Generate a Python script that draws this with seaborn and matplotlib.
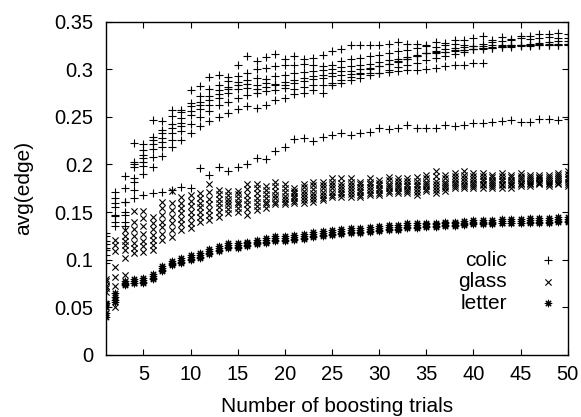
import numpy as np
import pandas as pd
import seaborn as sns
import matplotlib
matplotlib.use("Agg")
import matplotlib.pyplot as plt

# ================= DATA =================
# avg(edge) per boosting trial (1..50), one list per run

colic_1 = [0.128, 0.171, 0.188, 0.223, 0.221, 0.247, 0.246, 0.257, 0.257, 0.278,
           0.282, 0.292, 0.294, 0.292, 0.305, 0.314, 0.309, 0.313, 0.316, 0.311,
           0.314, 0.311, 0.312, 0.315, 0.319, 0.321, 0.325, 0.325, 0.326, 0.326,
           0.327, 0.329, 0.327, 0.327, 0.325, 0.329, 0.328, 0.331, 0.331, 0.333,
           0.335, 0.331, 0.334, 0.332, 0.335, 0.335, 0.337, 0.337, 0.338, 0.337]
colic_2 = [0.125, 0.165, 0.175, 0.203, 0.215, 0.229, 0.236, 0.251, 0.255, 0.265,
           0.272, 0.279, 0.283, 0.288, 0.293, 0.296, 0.300, 0.301, 0.303, 0.305,
           0.304, 0.306, 0.304, 0.303, 0.305, 0.309, 0.311, 0.312, 0.314, 0.315,
           0.317, 0.319, 0.320, 0.322, 0.324, 0.323, 0.325, 0.327, 0.325, 0.324,
           0.327, 0.329, 0.330, 0.331, 0.333, 0.332, 0.333, 0.334, 0.333, 0.333]
colic_3 = [0.120, 0.147, 0.161, 0.200, 0.210, 0.226, 0.233, 0.243, 0.249, 0.261,
           0.266, 0.272, 0.278, 0.281, 0.287, 0.289, 0.291, 0.290, 0.293, 0.294,
           0.296, 0.297, 0.298, 0.299, 0.300, 0.302, 0.303, 0.305, 0.306, 0.308,
           0.310, 0.311, 0.313, 0.315, 0.317, 0.318, 0.318, 0.320, 0.320, 0.321,
           0.322, 0.323, 0.324, 0.325, 0.326, 0.327, 0.328, 0.329, 0.330, 0.330]
colic_4 = [0.116, 0.140, 0.150, 0.197, 0.207, 0.221, 0.228, 0.238, 0.244, 0.256,
           0.262, 0.268, 0.274, 0.279, 0.284, 0.285, 0.284, 0.286, 0.285, 0.287,
           0.289, 0.291, 0.293, 0.294, 0.296, 0.298, 0.298, 0.300, 0.301, 0.303,
           0.306, 0.308, 0.311, 0.314, 0.317, 0.319, 0.321, 0.322, 0.323, 0.324,
           0.324, 0.325, 0.325, 0.326, 0.326, 0.326, 0.327, 0.327, 0.327, 0.327]
colic_5 = [0.112, 0.135, 0.140, 0.186, 0.203, 0.216, 0.224, 0.233, 0.240, 0.252,
           0.258, 0.263, 0.270, 0.275, 0.279, 0.280, 0.279, 0.281, 0.283, 0.284,
           0.286, 0.288, 0.290, 0.291, 0.293, 0.294, 0.295, 0.295, 0.296, 0.296,
           0.297, 0.298, 0.299, 0.299, 0.300, 0.301, 0.303, 0.304, 0.305, 0.307,
           0.307]
colic_6 = [0.110, 0.160, 0.161, 0.173, 0.198, 0.208, 0.218, 0.226, 0.235, 0.242,
           0.250, 0.256, 0.262, 0.266, 0.270, 0.273, 0.275, 0.277, 0.278, 0.280,
           0.279, 0.281, 0.283, 0.284, 0.286, 0.289, 0.292, 0.296, 0.300, 0.303,
           0.306, 0.309, 0.311, 0.314, 0.317, 0.317, 0.318, 0.319, 0.320, 0.321,
           0.321, 0.322, 0.323, 0.324, 0.326, 0.325, 0.325, 0.326, 0.325, 0.325]
colic_7 = [0.105, 0.155, 0.147, 0.165, 0.190, 0.197, 0.209, 0.218, 0.226, 0.233,
           0.240, 0.246, 0.250, 0.254, 0.258, 0.261, 0.259, 0.263, 0.268, 0.270,
           0.274, 0.275, 0.278, 0.275, 0.284, 0.286, 0.289, 0.291, 0.294, 0.296,
           0.299, 0.302, 0.305, 0.307, 0.310, 0.312, 0.314, 0.316, 0.318, 0.321,
           0.322, 0.322, 0.323, 0.323, 0.324, 0.324, 0.325, 0.326, 0.326, 0.327]
colic_8 = [0.097, 0.146, 0.135, 0.182, 0.168, 0.170, 0.171, 0.173, 0.176, 0.175,
           0.196, 0.189, 0.197, 0.193, 0.197, 0.200, 0.207, 0.206, 0.214, 0.218,
           0.227, 0.228, 0.225, 0.229, 0.231, 0.233, 0.231, 0.233, 0.234, 0.238,
           0.237, 0.238, 0.241, 0.238, 0.238, 0.238, 0.241, 0.240, 0.241, 0.244,
           0.244, 0.245, 0.246, 0.247, 0.245, 0.245, 0.248, 0.248, 0.247, 0.248]

glass_1 = [0.080, 0.121, 0.131, 0.151, 0.151, 0.145, 0.161, 0.172, 0.166, 0.168,
           0.170, 0.179, 0.173, 0.172, 0.172, 0.180, 0.180, 0.177, 0.182, 0.179,
           0.175, 0.179, 0.182, 0.182, 0.186, 0.186, 0.186, 0.182, 0.186, 0.184,
           0.187, 0.186, 0.186, 0.187, 0.189, 0.193, 0.189, 0.191, 0.193, 0.191,
           0.191, 0.189, 0.191, 0.189, 0.191, 0.189, 0.189, 0.189, 0.191, 0.193]
glass_2 = [0.078, 0.115, 0.125, 0.140, 0.144, 0.139, 0.154, 0.160, 0.160, 0.162,
           0.165, 0.171, 0.169, 0.168, 0.169, 0.174, 0.175, 0.173, 0.177, 0.175,
           0.172, 0.176, 0.178, 0.178, 0.182, 0.181, 0.182, 0.179, 0.182, 0.181,
           0.184, 0.183, 0.183, 0.183, 0.186, 0.188, 0.186, 0.188, 0.189, 0.188,
           0.188, 0.187, 0.188, 0.187, 0.188, 0.187, 0.187, 0.187, 0.189, 0.190]
glass_3 = [0.072, 0.109, 0.120, 0.132, 0.135, 0.132, 0.147, 0.152, 0.154, 0.156,
           0.160, 0.164, 0.164, 0.164, 0.165, 0.168, 0.170, 0.169, 0.172, 0.171,
           0.170, 0.172, 0.174, 0.175, 0.178, 0.177, 0.178, 0.176, 0.179, 0.178,
           0.180, 0.180, 0.179, 0.180, 0.182, 0.183, 0.182, 0.185, 0.186, 0.185,
           0.185, 0.184, 0.185, 0.184, 0.186, 0.185, 0.186, 0.185, 0.187, 0.187]
glass_4 = [0.070, 0.092, 0.115, 0.125, 0.127, 0.126, 0.140, 0.145, 0.149, 0.150,
           0.155, 0.158, 0.160, 0.161, 0.161, 0.163, 0.165, 0.165, 0.168, 0.167,
           0.167, 0.169, 0.170, 0.171, 0.175, 0.174, 0.175, 0.173, 0.176, 0.175,
           0.177, 0.177, 0.177, 0.177, 0.179, 0.179, 0.180, 0.182, 0.183, 0.182,
           0.183, 0.182, 0.183, 0.182, 0.184, 0.183, 0.184, 0.183, 0.185, 0.185]
glass_5 = [0.066, 0.082, 0.110, 0.118, 0.120, 0.121, 0.134, 0.138, 0.143, 0.145,
           0.150, 0.152, 0.155, 0.157, 0.158, 0.158, 0.161, 0.161, 0.165, 0.164,
           0.165, 0.166, 0.167, 0.168, 0.171, 0.171, 0.172, 0.171, 0.173, 0.173,
           0.175, 0.175, 0.174, 0.174, 0.177, 0.176, 0.177, 0.180, 0.180, 0.180,
           0.180, 0.180, 0.180, 0.180, 0.181, 0.181, 0.182, 0.181, 0.183, 0.182]
glass_6 = [0.053, 0.072, 0.102, 0.112, 0.114, 0.115, 0.127, 0.131, 0.137, 0.139,
           0.145, 0.147, 0.150, 0.153, 0.154, 0.153, 0.156, 0.158, 0.161, 0.161,
           0.162, 0.163, 0.164, 0.165, 0.168, 0.169, 0.169, 0.168, 0.170, 0.170,
           0.172, 0.172, 0.172, 0.171, 0.174, 0.173, 0.175, 0.177, 0.177, 0.177,
           0.178, 0.177, 0.178, 0.178, 0.179, 0.179, 0.181, 0.179, 0.181, 0.180]
glass_7 = [0.050, 0.050, 0.084, 0.107, 0.108, 0.110, 0.121, 0.124, 0.131, 0.133,
           0.140, 0.142, 0.145, 0.149, 0.150, 0.147, 0.152, 0.154, 0.158, 0.158,
           0.160, 0.160, 0.161, 0.163, 0.166, 0.166, 0.166, 0.166, 0.168, 0.168,
           0.170, 0.170, 0.170, 0.168, 0.172, 0.170, 0.172, 0.175, 0.175, 0.175,
           0.175, 0.175, 0.175, 0.175, 0.177, 0.177, 0.179, 0.177, 0.179, 0.177]

letter_1 = [0.055, 0.065, 0.078, 0.080, 0.081, 0.085, 0.093, 0.099, 0.102, 0.105,
            0.107, 0.111, 0.114, 0.117, 0.117, 0.119, 0.121, 0.123, 0.125, 0.125,
            0.126, 0.127, 0.129, 0.130, 0.131, 0.132, 0.133, 0.133, 0.134, 0.135,
            0.136, 0.136, 0.138, 0.138, 0.139, 0.139, 0.140, 0.140, 0.141, 0.142,
            0.142, 0.142, 0.143, 0.143, 0.143, 0.144, 0.144, 0.144, 0.145, 0.145]
letter_2 = [0.050, 0.061, 0.076, 0.078, 0.079, 0.083, 0.091, 0.097, 0.100, 0.103,
            0.105, 0.109, 0.112, 0.115, 0.115, 0.117, 0.119, 0.121, 0.123, 0.123,
            0.124, 0.125, 0.127, 0.128, 0.129, 0.130, 0.131, 0.131, 0.132, 0.133,
            0.134, 0.134, 0.136, 0.136, 0.137, 0.137, 0.138, 0.138, 0.139, 0.140,
            0.140, 0.140, 0.141, 0.141, 0.141, 0.142, 0.142, 0.142, 0.143, 0.143]
letter_3 = [0.044, 0.058, 0.074, 0.076, 0.077, 0.081, 0.089, 0.095, 0.098, 0.101,
            0.103, 0.107, 0.110, 0.113, 0.113, 0.115, 0.117, 0.119, 0.121, 0.121,
            0.122, 0.123, 0.125, 0.126, 0.127, 0.128, 0.129, 0.129, 0.130, 0.131,
            0.132, 0.132, 0.134, 0.134, 0.135, 0.135, 0.136, 0.136, 0.137, 0.138,
            0.138, 0.138, 0.139, 0.139, 0.139, 0.140, 0.140, 0.140, 0.141, 0.141]
letter_4 = [0.040, 0.056, 0.073, 0.075, 0.076, 0.080, 0.088, 0.094, 0.097, 0.100,
            0.102, 0.106, 0.109, 0.112, 0.112, 0.114, 0.116, 0.118, 0.120, 0.120,
            0.121, 0.122, 0.124, 0.125, 0.126, 0.127, 0.128, 0.128, 0.129, 0.130,
            0.131, 0.131, 0.133, 0.133, 0.134, 0.134, 0.135, 0.135, 0.136, 0.137,
            0.137, 0.137, 0.138, 0.138, 0.138, 0.139, 0.139, 0.139, 0.140, 0.140]

datasets = ["colic", "glass", "letter"]
runs = {
    "colic": [colic_1, colic_2, colic_3, colic_4, colic_5, colic_6, colic_7, colic_8],
    "glass": [glass_1, glass_2, glass_3, glass_4, glass_5, glass_6, glass_7],
    "letter": [letter_1, letter_2, letter_3, letter_4],
}
y_ticks = [0, 0.05, 0.1, 0.15, 0.2, 0.25, 0.3, 0.35]
y_labels = ["0", "0.05", "0.1", "0.15", "0.2", "0.25", "0.3", "0.35"]
x_ticks = [5, 10, 15, 20, 25, 30, 35, 40, 45, 50]
# ========================================

# long table: one row per (dataset, run, trial)
rows = []
for name in datasets:
    for k, run in enumerate(runs[name]):
        for i, v in enumerate(run):
            rows.append((name, k, i + 1, v))
df = pd.DataFrame(rows, columns=["dataset", "run", "trial", "edge"])

plt.rcParams["font.family"] = ["Liberation Sans", "DejaVu Sans"]
plt.rcParams["font.size"] = 15

markers = {"colic": "+", "glass": "x", "letter": (8, 2, 0)}
sizes = {"colic": 28, "glass": 20, "letter": 22}

fig = plt.figure(figsize=(5.81, 4.17), dpi=100)
ax = fig.add_axes([0.182, 0.149, 0.795, 0.799])

for name in datasets:
    sns.scatterplot(
        data=df[df.dataset == name],
        x="trial", y="edge",
        marker=markers[name],
        color="black",
        s=sizes[name],
        linewidth=0.8,
        label=name,
        ax=ax,
    )

ax.set_xlim(1, 50)
ax.set_ylim(0, 0.35)
ax.set_xticks(x_ticks)
ax.set_yticks(y_ticks)
ax.set_yticklabels(y_labels)
ax.tick_params(direction="in", top=True, right=True, length=4, width=0.8,
               labelsize=14.5)
ax.tick_params(axis="x", pad=7)
ax.tick_params(axis="y", pad=9)
for sp in ax.spines.values():
    sp.set_linewidth(1.0)

ax.set_xlabel("Number of boosting trials", fontsize=15, labelpad=10)
ax.set_ylabel("avg(edge)", fontsize=15, labelpad=15)

leg = ax.legend(
    loc="upper right",
    bbox_to_anchor=(0.984, 0.313),
    frameon=False,
    markerfirst=False,
    borderpad=0,
    borderaxespad=0,
    handlelength=1.2,
    handletextpad=1.37,
    labelspacing=0.12,
    fontsize=15,
)

plt.savefig("out.png", dpi=100)
plt.close()
